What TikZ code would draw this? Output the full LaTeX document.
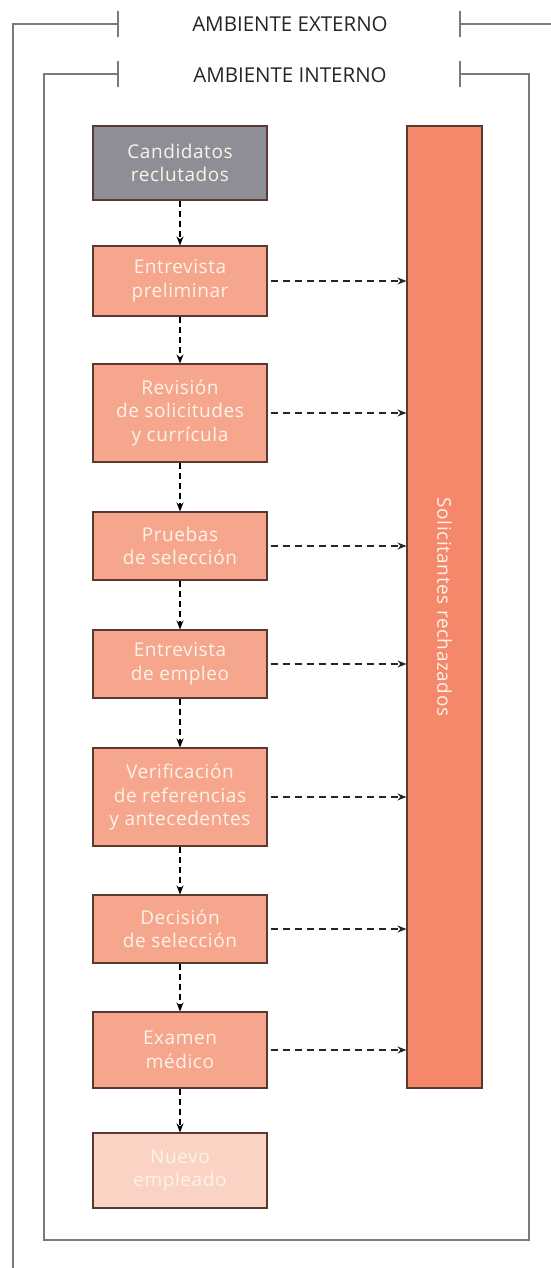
\documentclass[tikz,border=0pt]{standalone}
\usepackage{fontspec}
\setmainfont{Open Sans}
\newfontfamily\boxfont[LetterSpace=3]{Open Sans}
\usetikzlibrary{arrows.meta}
\definecolor{framegray}{HTML}{7A7A7A}
\definecolor{boxgray}{HTML}{8E8E96}
\definecolor{salmon}{HTML}{F6A68C}
\definecolor{barred}{HTML}{F5876B}
\definecolor{palesalmon}{HTML}{FBD3C4}
\definecolor{boxedge}{HTML}{5A3A30}
\definecolor{cream}{HTML}{FDF3EA}
\begin{document}
\begin{tikzpicture}[x=1pt,y=-1pt,
  framel/.style={draw=framegray,line width=2pt},
  tickl/.style={draw=framegray,line width=1.4pt},
  head/.style={font=\fontsize{20.5}{22}\selectfont,text=black!85},
  stepbox/.style={draw=boxedge,line width=1.1pt,fill=salmon,minimum width=174pt,
    text=cream,align=center,inner sep=0pt,font=\boxfont\fontsize{19}{23.5}\selectfont},
  varrow/.style={draw=black,line width=1.2pt,dash pattern=on 6pt off 4pt,
    -{Stealth[length=9pt,width=7pt]}},
  harrow/.style={draw=black!85,line width=1.2pt,dash pattern=on 7pt off 5pt,
    -{Stealth[length=9pt,width=7pt]},shorten <=3pt},
]
\useasboundingbox (0,0) rectangle (551,1268);
\fill[white] (0,0) rectangle (551,1268);
% outer frame
\draw[framel] (118,24) -- (13,24) -- (13,1268);
\draw[framel] (460,24) -- (551,24);
\draw[tickl] (118,11) -- (118,37);
\draw[tickl] (460,11) -- (460,37);
\node[head] (ext) at (290,24) {AMBIENTE EXTERNO};
% inner frame
\draw[framel] (118,74) -- (44,74) -- (44,1240) -- (529,1240) -- (529,74) -- (460,74);
\draw[tickl] (118,61) -- (118,87);
\draw[tickl] (460,61) -- (460,87);
\node[head] (int) at (290,75) {AMBIENTE INTERNO};
% boxes
\node[stepbox,fill=boxgray,minimum height=74pt] (c0) at (180,163) {Candidatos\\reclutados};
\node[stepbox,minimum height=70pt] (c1) at (180,281) {Entrevista\\preliminar};
\node[stepbox,minimum height=98pt] (c2) at (180,413) {Revisión\\de solicitudes\\y currícula};
\node[stepbox,minimum height=68pt] (c3) at (180,546) {Pruebas\\de selección};
\node[stepbox,minimum height=68pt] (c4) at (180,664) {Entrevista\\de empleo};
\node[stepbox,minimum height=98pt] (c5) at (180,797) {Verificación\\de referencias\\y antecedentes};
\node[stepbox,minimum height=68pt] (c6) at (180,929) {Decisión\\de selección};
\node[stepbox,minimum height=76pt] (c7) at (180,1050) {Examen\\médico};
\node[stepbox,fill=palesalmon,minimum height=75pt] (c8) at (180,1170.5) {Nuevo\\empleado};
% rejected bar
\node[draw=boxedge,line width=1.1pt,fill=barred,minimum width=75pt,minimum height=962pt,inner sep=0pt] (bar) at (444.5,607) {};
\node[rotate=-90,text=cream,font=\boxfont\fontsize{19}{22}\selectfont] (bartext) at (bar.center) {Solicitantes rechazados};
% vertical arrows
\foreach \a/\b in {c0/c1,c1/c2,c2/c3,c3/c4,c4/c5,c5/c6,c6/c7,c7/c8}
  \draw[varrow] (\a.south) -- (\b.north);
% horizontal arrows
\foreach \a in {c1,c2,c3,c4,c5,c6,c7}
  \draw[harrow] (\a.east) -- (\a.east -| bar.west);
\end{tikzpicture}
\end{document}
